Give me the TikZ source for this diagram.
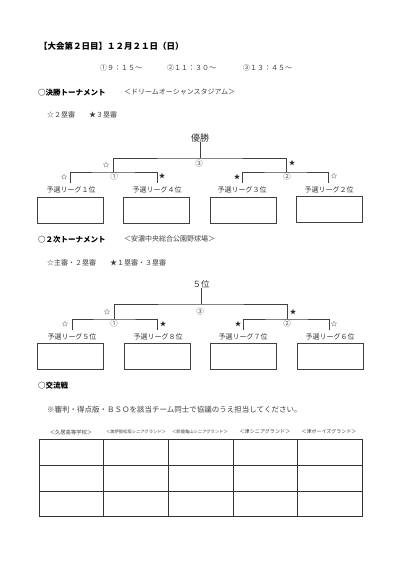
\documentclass[tikz,border=0pt]{standalone}
\usepackage{fontspec}
\setmainfont{Noto Sans CJK JP}
\begin{document}
\begin{tikzpicture}[x=1pt,y=-1pt]
\tikzset{
 ln/.style={draw=black!75, line width=0.8pt},
 lbl/.style={font=\fontsize{7}{8}\selectfont, text=black!80, inner sep=0pt},
 teambox/.style={draw=black!75, line width=0.8pt, minimum width=66pt, minimum height=26pt, inner sep=0pt},
 mk/.style={font=\fontsize{6.5}{7}\selectfont, text=black!85, inner sep=0pt},
 num/.style={font=\fontsize{7.5}{8}\selectfont, text=black!70, inner sep=0pt},
 head/.style={font=\bfseries\fontsize{7.5}{9}\selectfont, anchor=west, inner sep=0pt},
 txt/.style={font=\fontsize{7}{8}\selectfont, text=black!75, anchor=west, inner sep=0pt},
 colhead/.style={text=black!75, inner sep=0pt},
}
\fill[white] (0,0) rectangle (401,568);
\useasboundingbox (0,0) rectangle (401,568);

% Title
\node[head, font=\bfseries\fontsize{8.5}{10}\selectfont] (title) at (39,46) {【大会第２日目】１２月２１日（日）};
\node[txt] (t1) at (100,68) {①９：１５～};
\node[txt] (t2) at (167,68) {②１１：３０～};
\node[txt] (t3) at (243,68) {③１３：４５～};

% Final tournament
\node[head] (h1) at (38,93) {○決勝トーナメント};
\node[txt] (v1) at (124,92) {＜ドリームオーシャンスタジアム＞};
\node[txt] (u1) at (47,115) {☆２塁審　　★３塁審};

\node[lbl, font=\fontsize{9}{10}\selectfont] (win) at (200,138) {優勝};
\coordinate (top1) at (200,158);
\coordinate (m1a) at (113,172);
\coordinate (m1b) at (286,172);
\coordinate (s1a) at (70,183);
\coordinate (s1b) at (157,183);
\coordinate (s1c) at (242,183);
\coordinate (s1d) at (328,183);
\draw[ln] (win.south) -- (top1);
\draw[ln] (m1a) |- (top1) -| (m1b);
\draw[ln] (s1a) |- (m1a) -| (s1b);
\draw[ln] (s1c) |- (m1b) -| (s1d);
\node[mk] (k1) at (106,165) {☆};
\node[mk] (k2) at (292,163) {★};
\node[num] (c3) at (199,164) {③};
\node[num] (c1) at (114,177) {①};
\node[num] (c2) at (287,177) {②};
\node[mk] (k3) at (64,177) {☆};
\node[mk] (k4) at (162,176) {★};
\node[mk] (k5) at (237,177) {★};
\node[mk] (k6) at (334,176) {☆};
\node[lbl] (l1) at (71,190) {予選リーグ１位};
\node[lbl] (l4) at (157,190) {予選リーグ４位};
\node[lbl] (l3) at (242,190) {予選リーグ３位};
\node[lbl] (l2) at (329,190) {予選リーグ２位};
\node[teambox] (b1) at (70,210) {};
\node[teambox] (b4) at (156.5,210) {};
\node[teambox] (b3) at (243.5,210) {};
\node[teambox] (b2) at (329.5,209) {};

% Second tournament
\node[head] (h2) at (38,240) {○２次トーナメント};
\node[txt] (v2) at (124,239) {＜安濃中央総合公園野球場＞};
\node[txt] (u2) at (47,263) {☆主審・２塁審　　★１塁審・３塁審};

\node[lbl, font=\fontsize{8.5}{10}\selectfont] (fifth) at (201,284) {５位};
\coordinate (top2) at (201,304);
\coordinate (n2a) at (114,319);
\coordinate (n2b) at (287,319);
\coordinate (s2a) at (72,330);
\coordinate (s2b) at (157,330);
\coordinate (s2c) at (243,330);
\coordinate (s2d) at (329,330);
\draw[ln] (fifth.south) -- (top2);
\draw[ln] (n2a) |- (top2) -| (n2b);
\draw[ln] (s2a) |- (n2a) -| (s2b);
\draw[ln] (s2c) |- (n2b) -| (s2d);
\node[mk] (q1) at (107,312) {☆};
\node[mk] (q2) at (293,312) {★};
\node[num] (d3) at (200,312) {③};
\node[num] (d1) at (114,324) {①};
\node[num] (d2) at (287,324) {②};
\node[mk] (q3) at (65,324) {☆};
\node[mk] (q4) at (163,324) {★};
\node[mk] (q5) at (238,324) {★};
\node[mk] (q6) at (334,324) {☆};
\node[lbl] (p5) at (72,337) {予選リーグ５位};
\node[lbl] (p8) at (158,337) {予選リーグ８位};
\node[lbl] (p7) at (243,337) {予選リーグ７位};
\node[lbl] (p6) at (330,337) {予選リーグ６位};
\node[teambox] (e5) at (70.5,356) {};
\node[teambox] (e8) at (157.5,356) {};
\node[teambox] (e7) at (243.5,356) {};
\node[teambox] (e6) at (330,356) {};

% Exchange games
\node[head] (h3) at (38,386) {○交流戦};
\node[txt, font=\fontsize{7.5}{9}\selectfont] (note) at (47,410) {※審判・得点版・ＢＳＯを該当チーム同士で協議のうえ担当してください。};

\node[colhead, font=\fontsize{5.3}{6}\selectfont] (g1) at (71,432) {＜久居高等学校＞};
\node[colhead, font=\fontsize{4.3}{5}\selectfont] (g2) at (136,432) {＜美伊勢松阪シニアグランド＞};
\node[colhead, font=\fontsize{4.3}{5}\selectfont] (g3) at (200,432) {＜鈴鹿亀山シニアグランド＞};
\node[colhead, font=\fontsize{5.1}{6}\selectfont] (g4) at (265,432) {＜津シニアグランド＞};
\node[colhead, font=\fontsize{5}{6}\selectfont] (g5) at (329,432) {＜津ボーイズグランド＞};

\coordinate (ta) at (39,439);
\coordinate (tb) at (362,516);
\draw[ln, draw=black!80] (ta) rectangle (tb);
\foreach \xx in {103,168,233,297} \draw[ln, draw=black!80] (\xx,439) -- (\xx,516);
\foreach \yy in {465,491} \draw[ln, draw=black!80] (39,\yy) -- (362,\yy);
\end{tikzpicture}
\end{document}
